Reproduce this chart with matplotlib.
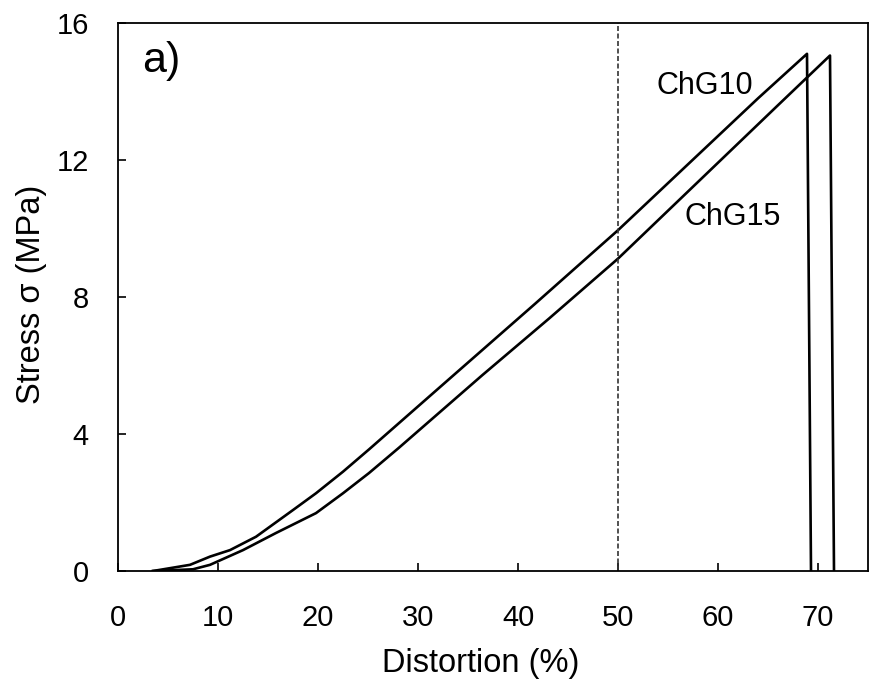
import matplotlib
matplotlib.use("Agg")
import matplotlib.pyplot as plt

# =========================
# DATA
# =========================
chg10_x = [3.5, 7.2, 9.2, 11.2, 13.8, 17.5, 19.8, 22.5, 25.1, 33.1, 41.7, 50.0, 56.0, 64.0, 68.9, 69.3]
chg10_y = [0.0, 0.18, 0.42, 0.61, 1.0, 1.78, 2.27, 2.9, 3.55, 5.6, 7.8, 9.95, 11.6, 13.8, 15.1, 0.0]

chg15_x = [3.5, 7.5, 9.2, 12.5, 15.8, 19.8, 22.5, 25.1, 28.1, 36.4, 43.1, 50.0, 56.0, 66.0, 71.2, 71.6]
chg15_y = [0.0, 0.05, 0.18, 0.61, 1.11, 1.69, 2.27, 2.86, 3.6, 5.71, 7.37, 9.12, 10.8, 13.6, 15.05, 0.0]

x_ticks = [0, 10, 20, 30, 40, 50, 60, 70]
y_ticks = [0, 4, 8, 12, 16]
ref_line = 50

plt.rcParams["font.family"] = ["Liberation Sans", "DejaVu Sans"]

fig = plt.figure(figsize=(8.71, 6.85), dpi=100)
ax = fig.add_axes([118 / 871, 1 - 571 / 685, 750 / 871, 548 / 685])

ax.plot(chg10_x, chg10_y, color="black", lw=1.9)
ax.plot(chg15_x, chg15_y, color="black", lw=1.9)
ax.axvline(ref_line, color="#333333", lw=1.2, dashes=(3, 1.5))

ax.set_xlim(0, 75)
ax.set_ylim(0, 16)
ax.set_xticks(x_ticks)
ax.set_yticks(y_ticks)
ax.tick_params(direction="in", length=6, width=1.2, labelsize=21)
ax.tick_params(axis="x", pad=24)
ax.tick_params(axis="y", pad=21)

for s in ax.spines.values():
    s.set_linewidth(1.3)

ax.set_xlabel("Distortion (%)", fontsize=23.5)
ax.set_ylabel("Stress σ (MPa)", fontsize=23.5)
ax.xaxis.set_label_coords(0.483, -0.14)
ax.yaxis.set_label_coords(-0.095, 0.505)

ax.text(58.7, 14.15, "ChG10", fontsize=22, ha="center", va="center")
ax.text(61.5, 10.35, "ChG15", fontsize=22, ha="center", va="center")
ax.text(4.3, 14.9, "a)", fontsize=31, ha="center", va="center")

fig.savefig("out.png", dpi=100)
